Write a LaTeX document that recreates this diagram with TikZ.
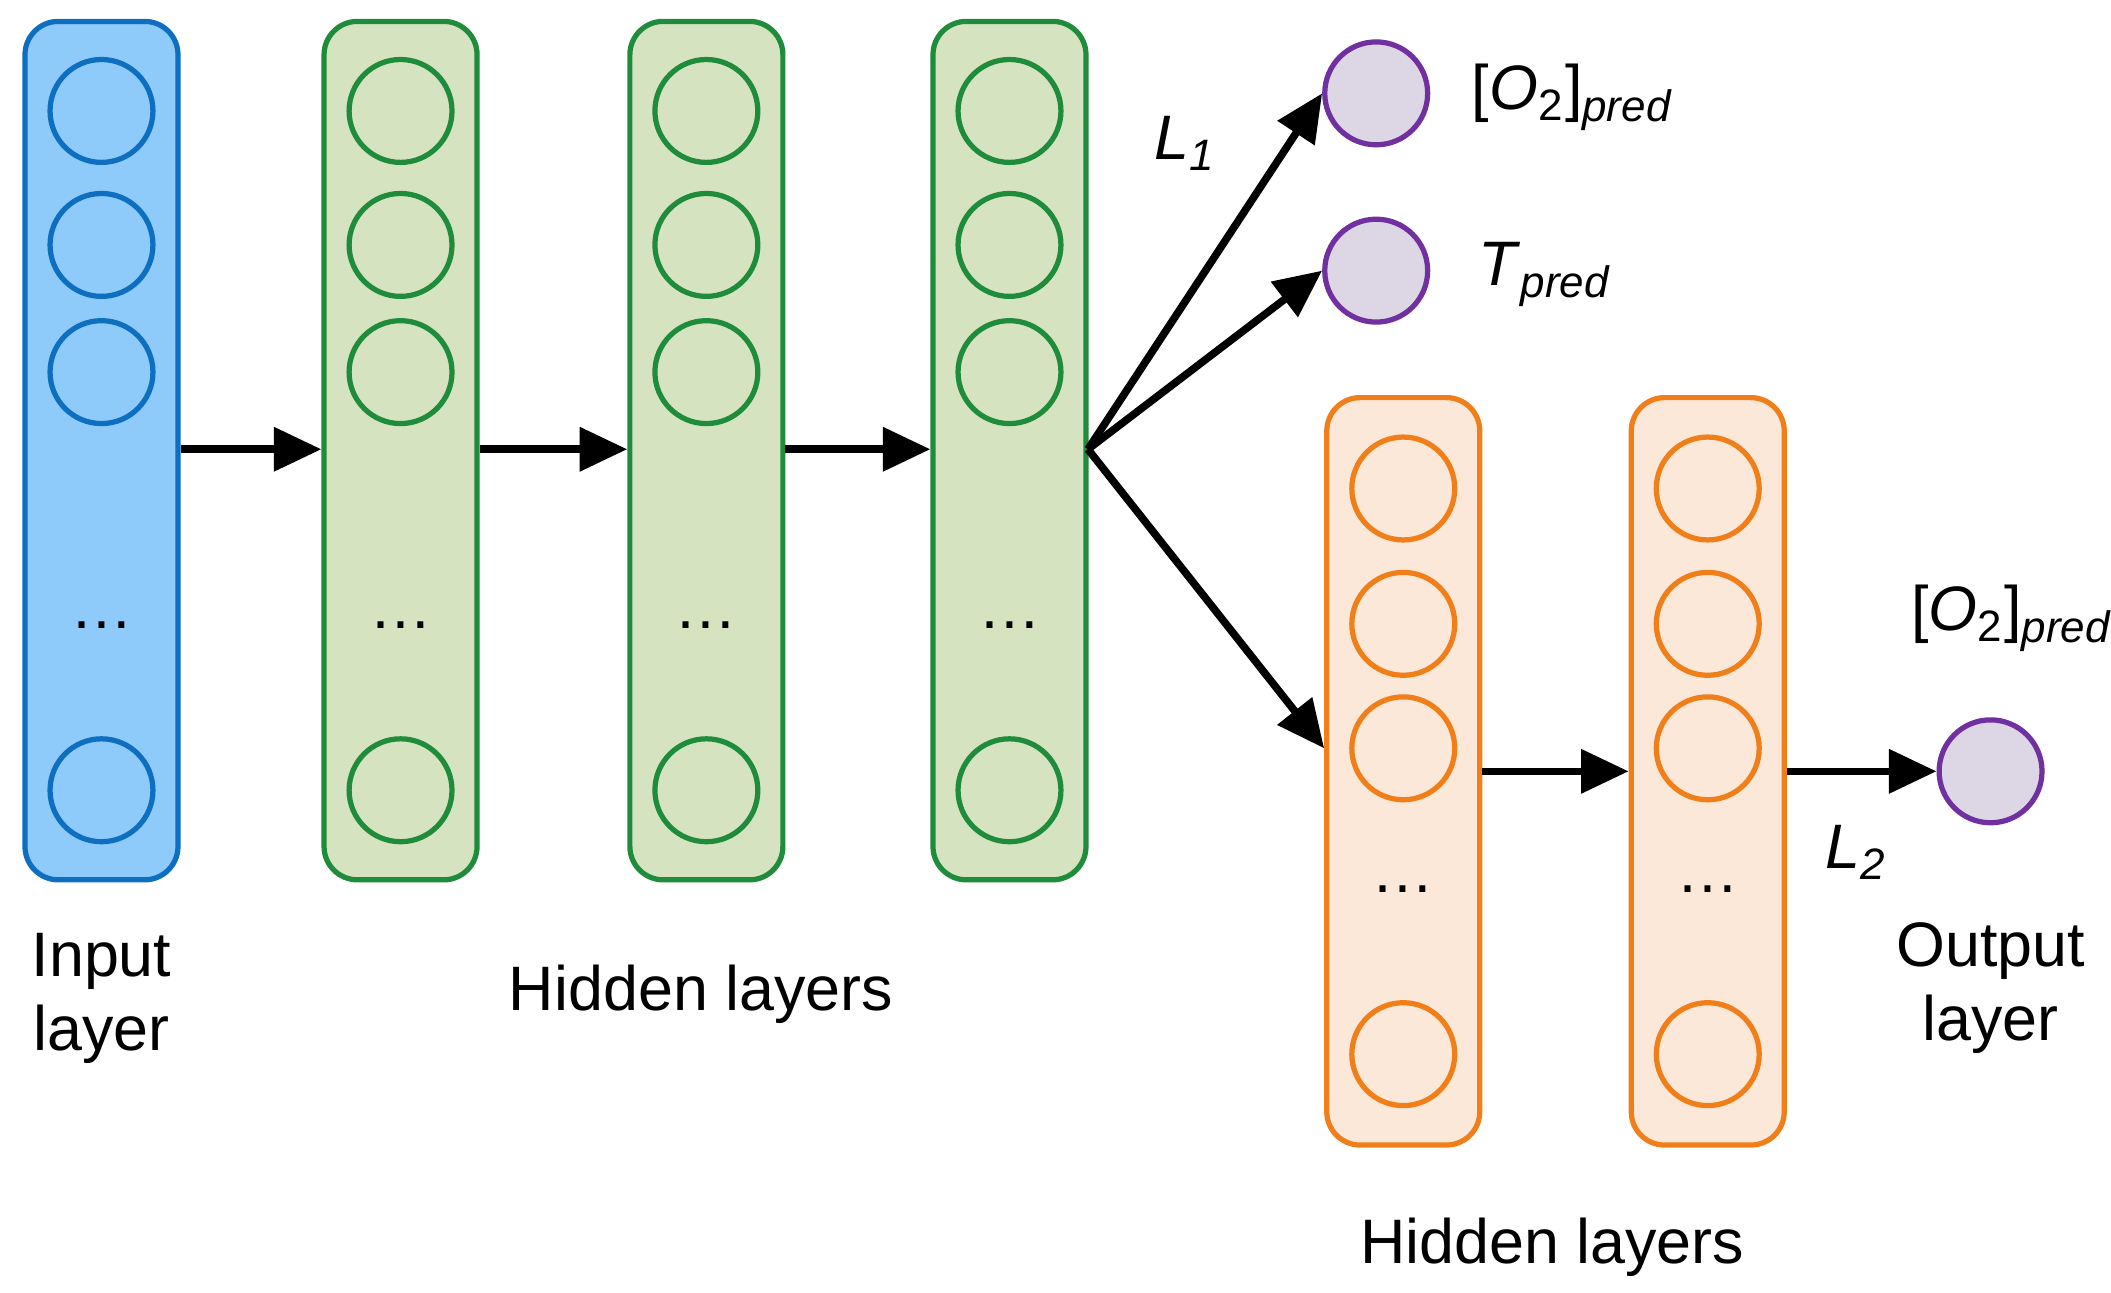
\documentclass[tikz,border=0pt]{standalone}
\usepackage{fontspec}
\setmainfont{Liberation Sans}
\usetikzlibrary{positioning,arrows.meta}
\definecolor{inpfill}{RGB}{142,203,251}
\definecolor{inpline}{RGB}{14,111,192}
\definecolor{hidfill}{RGB}{214,227,192}
\definecolor{hidline}{RGB}{30,140,58}
\definecolor{orgfill}{RGB}{252,232,216}
\definecolor{orgline}{RGB}{240,127,26}
\definecolor{outfill}{RGB}{220,214,229}
\definecolor{outline}{RGB}{112,48,160}
\newcommand{\sub}[1]{\textsubscript{\textit{#1}}}

\begin{document}
\begin{tikzpicture}[
    x=0.01cm, y=-0.01cm,
    font=\fontsize{13.2}{15.5}\selectfont,
    layer/.style={rectangle, rounded corners=7pt, line width=1.1pt,
        minimum width=1.13cm, minimum height=6.34cm, draw},
    shortlayer/.style={layer, minimum height=5.52cm},
    neuron/.style={circle, minimum size=0.76cm, line width=1.1pt, draw},
    outneuron/.style={neuron, fill=outfill, draw=outline},
    link/.style={line width=1.6pt, -{Triangle[length=10pt,width=9pt]}},
    lab/.style={align=center, inner sep=0pt}
    ]
\useasboundingbox (0,0) rectangle (1560,955);

% first branch
\node[layer, fill=inpfill, draw=inpline] (input) at (75,333) {};
\node[layer, fill=hidfill, draw=hidline] (hidA) at (296,333) {};
\node[layer, fill=hidfill, draw=hidline] (hidB) at (522,333) {};
\node[layer, fill=hidfill, draw=hidline] (hidC) at (746,333) {};
\foreach \lname/\x/\col in {input/75/inpline, hidA/296/hidline, hidB/522/hidline, hidC/746/hidline} {
    \node[neuron, draw=\col] (\lname-1) at (\x,82) {};
    \node[neuron, draw=\col] (\lname-2) at (\x,181) {};
    \node[neuron, draw=\col] (\lname-3) at (\x,275) {};
    \node[neuron, draw=\col] (\lname-4) at (\x,584) {};
    \node (\lname-dots) at (\x,462) {\dots};
}

% second branch
\node[shortlayer, fill=orgfill, draw=orgline] (hidD) at (1037,570) {};
\node[shortlayer, fill=orgfill, draw=orgline] (hidE) at (1262,570) {};
\foreach \lname/\x in {hidD/1037, hidE/1262} {
    \node[neuron, draw=orgline] (\lname-1) at (\x,361) {};
    \node[neuron, draw=orgline] (\lname-2) at (\x,461) {};
    \node[neuron, draw=orgline] (\lname-3) at (\x,553) {};
    \node[neuron, draw=orgline] (\lname-4) at (\x,779) {};
    \node (\lname-dots) at (\x,657) {\dots};
}

% outputs
\node[outneuron] (oxyA) at (1017,69) {};
\node[outneuron] (temp) at (1017,200) {};
\node[outneuron] (oxyB) at (1471,570) {};
\coordinate (split) at (804,332);

\draw[link] (input.east |- split) -- (hidA.west |- split);
\draw[link] (hidA.east |- split) -- (hidB.west |- split);
\draw[link] (hidB.east |- split) -- (hidC.west |- split);
\draw[link] (split) -- (oxyA.west);
\draw[link] (split) -- (temp.west);
\draw[link] (split) -- (hidD.west |- hidD-3);
\draw[link] (hidD.east |- oxyB) -- (hidE.west |- oxyB);
\draw[link] (hidE.east |- oxyB) -- (oxyB.west);

% labels
\node[lab] (lossA) at (876,106) {\textit{L}\sub{1}};
\node[lab, anchor=west] (oxyAlab) at (1087,72) {[\textit{O}\textsubscript{2}]\sub{pred}};
\node[lab, anchor=west] (templab) at (1092,203) {\textit{T}\sub{pred}};
\node[lab] (oxyBlab) at (1487,457) {[\textit{O}\textsubscript{2}]\sub{pred}};
\node[lab] (lossB) at (1372,630) {\textit{L}\sub{2}};
\node[lab] (inlab) at (75,738) {Input\\layer};
\node[lab] (outlab) at (1471,730) {Output\\layer};
\node[lab] (hidlabA) at (518,735) {Hidden layers};
\node[lab] (hidlabB) at (1147,922) {Hidden layers};
\end{tikzpicture}
\end{document}
